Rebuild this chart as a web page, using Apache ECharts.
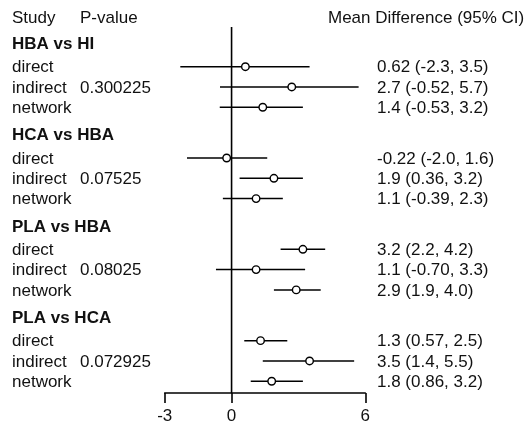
<!DOCTYPE html>
<html><head><meta charset="utf-8">
<script src="https://cdn.jsdelivr.net/npm/echarts@6/dist/echarts.min.js"></script>
<style>html,body{margin:0;padding:0;background:#fff}#c{width:526px;height:428px}</style>
</head><body><div id="c"></div>
<script>
// ---- data ----
const groups = ['HBA vs HI', 'HCA vs HBA', 'PLA vs HBA', 'PLA vs HCA'];
const studies = ['direct', 'indirect', 'network'];
const pValues = ['0.300225', '0.07525', '0.08025', '0.072925'];
const means = [[0.62, 2.7, 1.4], [-0.22, 1.9, 1.1], [3.2, 1.1, 2.9], [1.3, 3.5, 1.8]];
const lowers = [[-2.3, -0.52, -0.53], [-2.0, 0.36, -0.39], [2.2, -0.70, 1.9], [0.57, 1.4, 0.86]];
const uppers = [[3.5, 5.7, 3.2], [1.6, 3.2, 2.3], [4.2, 3.3, 4.0], [2.5, 5.5, 3.2]];
const ciLabels = [
  ['0.62 (-2.3, 3.5)', '2.7 (-0.52, 5.7)', '1.4 (-0.53, 3.2)'],
  ['-0.22 (-2.0, 1.6)', '1.9 (0.36, 3.2)', '1.1 (-0.39, 2.3)'],
  ['3.2 (2.2, 4.2)', '1.1 (-0.70, 3.3)', '2.9 (1.9, 4.0)'],
  ['1.3 (0.57, 2.5)', '3.5 (1.4, 5.5)', '1.8 (0.86, 3.2)']
];
const xTicks = [-3, 0, 6];
const headers = { study: 'Study', p: 'P-value', ci: 'Mean Difference (95% CI)' };

// ---- layout helpers (row positions on the y value axis) ----
const GROUP_STEP = 4.5, HEAD_OFF = -1.15, TOP_HEAD = -2.42;
const Y_MIN = -3.286, Y_MAX = 16.08, ZERO_TOP = -1.95;
const rowY = (g, r) => g * GROUP_STEP + r;
const headY = g => g * GROUP_STEP + HEAD_OFF;

const FONT = "'Liberation Sans', Arial, sans-serif";
const FS = 17;
const COL = '#111';

const whiskers = [], points = [], studyTxt = [], pTxt = [], ciTxt = [], headTxt = [];
groups.forEach((gname, g) => {
  headTxt.push([headY(g), gname]);
  studies.forEach((s, r) => {
    const y = rowY(g, r);
    whiskers.push([lowers[g][r], uppers[g][r], y]);
    points.push([means[g][r], y]);
    studyTxt.push([y, s]);
    ciTxt.push([y, ciLabels[g][r]]);
    if (r === 1) pTxt.push([y, pValues[g]]);
  });
});

function textSeries(data, px, opts) {
  return {
    type: 'custom', silent: true, data: data, z: 5,
    renderItem: function (params, api) {
      const p = api.coord([0, api.value(0)]);
      return {
        type: 'text',
        style: Object.assign({
          x: px, y: p[1] + 1, text: data[params.dataIndex][1],
          fill: COL, font: 'normal ' + FS + 'px ' + FONT,
          textAlign: 'left', textVerticalAlign: 'middle'
        }, opts || {})
      };
    }
  };
}

const chart = echarts.init(document.getElementById('c'), null, { renderer: 'canvas' });
chart.setOption({
  animation: false,
  backgroundColor: '#fff',
  grid: { left: 164.7, right: 160.7, top: 0, bottom: 35, containLabel: false },
  xAxis: {
    type: 'value', min: -3, max: 6,
    splitLine: { show: false },
    axisLine: { show: true, onZero: false, lineStyle: { color: '#000', width: 1.6 } },
    axisTick: { show: true, customValues: xTicks, length: 10, lineStyle: { color: '#000', width: 1.6 } },
    axisLabel: { customValues: xTicks, color: COL, fontSize: FS, fontFamily: FONT, margin: 15, formatter: v => String(v) }
  },
  yAxis: { type: 'value', inverse: true, min: Y_MIN, max: Y_MAX, show: false },
  series: [
    {
      type: 'custom', silent: true, data: [[0, ZERO_TOP, Y_MAX]], z: 1,
      renderItem: function (params, api) {
        const a = api.coord([api.value(0), api.value(1)]);
        const b = api.coord([api.value(0), api.value(2)]);
        return { type: 'line', shape: { x1: a[0], y1: a[1], x2: b[0], y2: b[1] }, style: { stroke: '#000', lineWidth: 1.6 } };
      }
    },
    {
      type: 'custom', silent: true, data: whiskers, z: 2,
      renderItem: function (params, api) {
        const a = api.coord([api.value(0), api.value(2)]);
        const b = api.coord([api.value(1), api.value(2)]);
        return { type: 'line', shape: { x1: a[0], y1: a[1], x2: b[0], y2: b[1] }, style: { stroke: '#000', lineWidth: 1.5 } };
      }
    },
    {
      type: 'scatter', silent: true, data: points, z: 3,
      symbol: 'circle', symbolSize: 7.5,
      itemStyle: { color: '#fff', borderColor: '#000', borderWidth: 1.4, opacity: 1 }
    },
    textSeries([[TOP_HEAD, headers.study]], 12),
    textSeries([[TOP_HEAD, headers.p]], 80),
    textSeries([[TOP_HEAD, headers.ci]], 328),
    textSeries(headTxt, 12, { font: 'bold ' + FS + 'px ' + FONT }),
    textSeries(studyTxt, 12),
    textSeries(pTxt, 80),
    textSeries(ciTxt, 377)
  ]
});
</script>
</body></html>
